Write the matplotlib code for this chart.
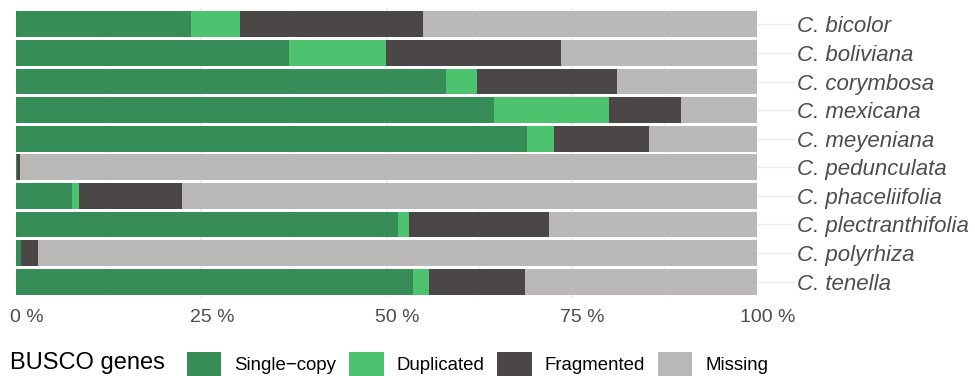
import numpy as np
import matplotlib
matplotlib.use("Agg")
import matplotlib.pyplot as plt
import matplotlib.transforms as mtransforms
from matplotlib.patches import Patch

plt.rcParams['font.family'] = ['Liberation Sans', 'DejaVu Sans']

# BUSCO completeness per species (percent of genes)
species = ["C. bicolor", "C. boliviana", "C. corymbosa", "C. mexicana",
           "C. meyeniana", "C. pedunculata", "C. phaceliifolia",
           "C. plectranthifolia", "C. polyrhiza", "C. tenella"]
single_copy = [23.6, 36.9, 58.0, 64.5, 68.9, 0.2, 7.6, 51.5, 0.7, 53.6]
duplicated = [6.6, 13.0, 4.2, 15.5, 3.7, 0.0, 0.9, 1.6, 0.0, 2.1]
fragmented = [24.7, 23.6, 18.9, 9.8, 12.8, 0.3, 13.9, 18.8, 2.3, 13.0]
missing = [45.1, 26.5, 18.9, 10.2, 14.6, 99.5, 77.6, 28.1, 97.0, 31.3]

categories = ["Single\u2212copy", "Duplicated", "Fragmented", "Missing"]
colors = ["#378D57", "#4EC36F", "#4B4746", "#BAB9B7"]
x_ticks = [0, 25, 50, 75, 100]
x_ticklabels = ["0 %", "25 %", "50 %", "75 %", "100 %"]

fig = plt.figure(figsize=(9.75, 3.76), dpi=100)
ax = fig.add_axes([16 / 975, 1 - 298 / 376, 741 / 975, 290 / 376])

ypos = np.arange(len(species))
left = np.zeros(len(species))
for vals, col in zip([single_copy, duplicated, fragmented, missing], colors):
    ax.barh(ypos, vals, left=left, height=0.9, color=col, zorder=2)
    left += np.array(vals)

ax.set_xlim(0, 100)
ax.set_ylim(9.57, -0.57)

ax.set_xticks(x_ticks)
ax.set_xticklabels(x_ticklabels, fontsize=14, color="#4D4D4D")
ax.set_xticks(np.arange(12.5, 100, 25), minor=True)
ax.tick_params(axis="x", which="both", length=0, pad=8)
# tick labels sit a little right of their gridlines
shift = mtransforms.ScaledTranslation(11 / 100, 0, fig.dpi_scale_trans)
for lab in ax.get_xticklabels():
    lab.set_transform(lab.get_transform() + shift)
ax.grid(axis="x", which="major", color="#EBEBEB", lw=1.1, zorder=0)
ax.grid(axis="x", which="minor", color="#F2F2F2", lw=0.8, zorder=0)

ax.yaxis.tick_right()
ax.set_yticks(ypos)
ax.set_yticklabels(species, fontsize=16, style="italic", color="#4D4D4D")
ax.tick_params(axis="y", length=27, width=1.0, color="#EBEBEB", pad=1.5)

for s in ax.spines.values():
    s.set_visible(False)

# legend along the bottom, title to the left of the keys
fig.text(10 / 975, 1 - 363 / 376, "BUSCO genes", fontsize=17, va="center",
         ha="left", color="black")
handles = [Patch(facecolor=c, edgecolor="none") for c in colors]
fig.legend(handles, categories, loc="lower left", bbox_to_anchor=(187 / 975, 0),
           ncol=4, frameon=False, fontsize=13.4, handlelength=1.84,
           handleheight=1.62, handletextpad=0.7, columnspacing=0.7,
           borderpad=0, borderaxespad=0)

fig.savefig("out.png", dpi=100)
